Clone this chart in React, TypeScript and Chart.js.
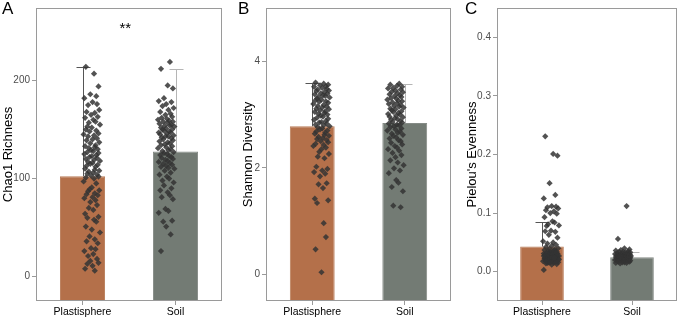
import React, { useEffect, useRef } from 'react';
import { Chart, registerables } from 'chart.js';

Chart.register(...registerables);

const FONT = '"Liberation Sans", Arial, Helvetica, sans-serif';

const GROUPS = ['Plastisphere', 'Soil'];
const BAR_COLORS = ['#b4704a', '#737b74'];
const BAR_EDGES = ['#b97d5a', '#858b86'];
const ERR_COLORS = ['#555555', '#b5b5b5'];

// Panel A — Chao1 richness
const CHAO_MEANS = [102.4, 127.6];
const CHAO_UPPER = [214, 212];
const CHAO_TICKS = [0, 100, 200];
const CHAO_TICK_LABELS = ['0', '100', '200'];
const CHAO_PLAST = [214, 207, 194, 186, 184, 182, 178, 176, 175, 170, 168, 167, 165, 163, 162, 160, 158, 157, 155, 153, 152, 150, 149, 148, 146, 145, 144, 143, 141, 140, 139, 137, 136, 134, 133, 132, 131, 130, 129, 128, 127, 126, 125, 124, 123, 122, 121, 120, 119, 118, 117, 116, 115, 114, 113, 112, 110, 109, 108, 107, 106, 105, 104, 103, 102, 101, 100, 97, 95, 91, 89, 88, 87, 85, 84, 83, 81, 80, 78, 76, 73, 70, 68, 64, 61, 60, 58, 56, 51, 48, 45, 41, 38, 36, 34, 29, 28, 26, 23, 21, 18, 16, 14, 13, 11, 8, 6];
const CHAO_SOIL = [219, 212, 195, 192, 182, 179, 178, 176, 174, 172, 170, 168, 166, 165, 163, 162, 161, 160, 159, 158, 158, 157, 156, 155, 154, 154, 153, 152, 151, 150, 150, 149, 148, 147, 147, 146, 145, 144, 143, 143, 142, 141, 140, 139, 138, 137, 136, 135, 134, 133, 132, 131, 130, 129, 128, 127, 126, 125, 124, 123, 122, 121, 120, 119, 118, 117, 116, 115, 114, 113, 112, 111, 110, 108, 106, 104, 102, 100, 98, 96, 93, 90, 88, 86, 83, 81, 79, 69, 67, 65, 57, 56, 51, 43, 26];

// Panel B — Shannon diversity
const SHAN_MEANS = [2.78, 2.84];
const SHAN_UPPER = [3.6, 3.58];
const SHAN_TICKS = [0, 2, 4];
const SHAN_TICK_LABELS = ['0', '2', '4'];
const SHAN_PLAST = [3.6, 3.58, 3.56, 3.55, 3.53, 3.52, 3.5, 3.48, 3.47, 3.45, 3.44, 3.42, 3.4, 3.39, 3.38, 3.36, 3.35, 3.33, 3.32, 3.3, 3.28, 3.27, 3.25, 3.24, 3.22, 3.2, 3.18, 3.16, 3.15, 3.13, 3.11, 3.1, 3.08, 3.06, 3.05, 3.03, 3.01, 3.0, 2.98, 2.96, 2.94, 2.92, 2.9, 2.88, 2.86, 2.85, 2.83, 2.81, 2.8, 2.78, 2.76, 2.74, 2.72, 2.7, 2.68, 2.66, 2.64, 2.62, 2.6, 2.58, 2.56, 2.54, 2.52, 2.5, 2.48, 2.45, 2.43, 2.41, 2.38, 2.35, 2.3, 2.26, 2.21, 2.18, 2.02, 1.98, 1.95, 1.92, 1.89, 1.84, 1.71, 1.69, 1.62, 1.42, 1.39, 1.34, 0.96, 0.7, 0.47, 0.04];
const SHAN_SOIL = [3.58, 3.56, 3.54, 3.52, 3.5, 3.49, 3.47, 3.45, 3.43, 3.42, 3.4, 3.38, 3.36, 3.35, 3.33, 3.31, 3.3, 3.28, 3.26, 3.25, 3.23, 3.21, 3.2, 3.18, 3.16, 3.15, 3.13, 3.11, 3.1, 3.08, 3.06, 3.05, 3.03, 3.01, 3.0, 2.98, 2.96, 2.95, 2.93, 2.91, 2.9, 2.88, 2.86, 2.85, 2.83, 2.81, 2.8, 2.78, 2.76, 2.74, 2.72, 2.7, 2.68, 2.66, 2.64, 2.62, 2.6, 2.57, 2.55, 2.52, 2.5, 2.47, 2.44, 2.41, 2.38, 2.35, 2.32, 2.28, 2.24, 2.2, 2.14, 2.1, 2.05, 1.99, 1.95, 1.9, 1.77, 1.72, 1.64, 1.56, 1.29, 1.26];

// Panel C — Pielou's evenness
const EVEN_MEANS = [0.043, 0.0245];
const EVEN_UPPER = [0.085, 0.033];
const EVEN_TICKS = [0, 0.1, 0.2, 0.3, 0.4];
const EVEN_TICK_LABELS = ['0.0', '0.1', '0.2', '0.3', '0.4'];
const EVEN_PLAST = [0.231, 0.201, 0.198, 0.151, 0.131, 0.125, 0.112, 0.111, 0.11, 0.108, 0.105, 0.103, 0.1, 0.099, 0.093, 0.086, 0.084, 0.081, 0.079, 0.078, 0.07, 0.069, 0.068, 0.063, 0.058, 0.052, 0.05, 0.048, 0.046, 0.044, 0.042, 0.04, 0.039, 0.038, 0.037, 0.036, 0.035, 0.034, 0.034, 0.033, 0.032, 0.031, 0.031, 0.03, 0.03, 0.029, 0.028, 0.028, 0.027, 0.027, 0.026, 0.026, 0.025, 0.025, 0.024, 0.024, 0.023, 0.023, 0.022, 0.022, 0.021, 0.021, 0.02, 0.02, 0.019, 0.019, 0.018, 0.018, 0.017, 0.017, 0.016, 0.016, 0.015, 0.015, 0.014, 0.013, 0.012, 0.003, 0.035, 0.033, 0.032, 0.03, 0.029, 0.028, 0.027, 0.026, 0.025, 0.024, 0.023, 0.022, 0.021, 0.02, 0.019, 0.018, 0.017, 0.016, 0.024, 0.027];
const EVEN_SOIL = [0.112, 0.056, 0.04, 0.038, 0.037, 0.036, 0.035, 0.034, 0.034, 0.033, 0.033, 0.032, 0.032, 0.031, 0.031, 0.03, 0.03, 0.03, 0.029, 0.029, 0.029, 0.028, 0.028, 0.028, 0.027, 0.027, 0.027, 0.026, 0.026, 0.026, 0.026, 0.025, 0.025, 0.025, 0.025, 0.024, 0.024, 0.024, 0.024, 0.023, 0.023, 0.023, 0.023, 0.022, 0.022, 0.022, 0.022, 0.021, 0.021, 0.021, 0.021, 0.02, 0.02, 0.02, 0.02, 0.019, 0.019, 0.019, 0.018, 0.018, 0.018, 0.017, 0.017, 0.016, 0.016, 0.015, 0.015, 0.014];

// Horizontal jitter (category units)
const JITTER_PLAST = [-0.08, 0.03, 0.09, -0.02, 0.06, -0.1, 0.01, 0.07, -0.05, 0.1, -0.07, 0.04, -0.01, 0.08, -0.09, 0.02, 0.05, -0.04, 0.11, -0.06,
  0.0, -0.08, 0.06, -0.03, 0.09, -0.11, 0.03, -0.05, 0.07, 0.01, -0.07, 0.1, -0.02, 0.05, -0.09, 0.04, -0.04, 0.08, -0.01, 0.02,
  -0.06, 0.09, -0.1, 0.06, 0.0, -0.03, 0.07, -0.08, 0.03, 0.11, -0.05, 0.01, -0.02, 0.08, -0.07, 0.05, -0.09, 0.04, 0.1, -0.04,
  0.02, -0.06, 0.07, -0.01, 0.09, -0.08, 0.03, -0.11, 0.06, 0.0, -0.03, 0.1, -0.05, 0.04, -0.07, 0.08, 0.01, -0.1, 0.05, -0.02,
  0.07, -0.04, 0.02, -0.09, 0.09, -0.06, 0.03, 0.06, -0.08, 0.0, 0.11, -0.03, 0.04, -0.07, 0.08, -0.01, 0.05, -0.1, 0.02, -0.05,
  0.07, -0.02, 0.09, -0.06, 0.01, -0.09, 0.04, 0.06, -0.04, 0.03];
const JITTER_SOIL = [0.05, -0.07, 0.02, 0.09, -0.03, -0.1, 0.07, 0.0, -0.05, 0.1, 0.03, -0.08, 0.06, -0.01, 0.08, -0.06, 0.01, -0.11, 0.04, 0.09,
  -0.04, 0.02, -0.09, 0.07, -0.02, 0.05, 0.11, -0.07, 0.0, -0.05, 0.08, -0.03, 0.04, -0.1, 0.06, 0.01, -0.08, 0.1, -0.01, 0.03,
  -0.06, 0.07, -0.04, 0.09, -0.09, 0.02, 0.05, -0.02, -0.07, 0.08, 0.0, -0.11, 0.06, 0.03, -0.05, 0.1, -0.03, 0.01, -0.08, 0.04,
  0.07, -0.06, 0.09, -0.01, 0.02, -0.1, 0.05, -0.04, 0.08, 0.0, -0.07, 0.03, 0.11, -0.02, 0.06, -0.09, 0.01, 0.04, -0.05, 0.1,
  -0.03, 0.07, -0.08, 0.02, 0.05, -0.06, 0.09, -0.01, 0.03, -0.1, 0.08, -0.04, 0.0, 0.06, -0.07, 0.01, 0.1, -0.02, 0.04, -0.09,
  0.07, -0.05, 0.02, 0.08, -0.03, 0.05, -0.08, 0.0, 0.06, -0.01];

type PanelCfg = {
  letter: string;
  title: string;
  means: number[];
  upper: number[];
  plast: number[];
  soil: number[];
  ticks: number[];
  tickLabels: string[];
  min: number;
  max: number;
  sig?: { text: string; x: number; y: number };
};

const PANELS: PanelCfg[] = [
  { letter: 'A', title: 'Chao1 Richness', means: CHAO_MEANS, upper: CHAO_UPPER, plast: CHAO_PLAST, soil: CHAO_SOIL, ticks: CHAO_TICKS, tickLabels: CHAO_TICK_LABELS, min: -24.9, max: 274, sig: { text: '**', x: 1.45, y: 248 } },
  { letter: 'B', title: 'Shannon Diversity', means: SHAN_MEANS, upper: SHAN_UPPER, plast: SHAN_PLAST, soil: SHAN_SOIL, ticks: SHAN_TICKS, tickLabels: SHAN_TICK_LABELS, min: -0.5, max: 5.0 },
  { letter: 'C', title: "Pielou's Evenness", means: EVEN_MEANS, upper: EVEN_UPPER, plast: EVEN_PLAST, soil: EVEN_SOIL, ticks: EVEN_TICKS, tickLabels: EVEN_TICK_LABELS, min: -0.05, max: 0.45 },
];

const LAYOUT = [
  { left: 0, width: 228, yWidth: 36, padRight: 6, titlePad: 1, letterX: 2 },
  { left: 228, width: 227, yWidth: 38, padRight: 4, titlePad: 12.7, letterX: 10 },
  { left: 455, width: 230, yWidth: 42, padRight: 8, titlePad: 10, letterX: 10 },
];

const H = 317;

function Panel({ cfg, lay }: { cfg: PanelCfg; lay: typeof LAYOUT[number] }) {
  const ref = useRef<HTMLCanvasElement | null>(null);
  useEffect(() => {
    if (!ref.current) return;
    const points = [
      ...cfg.plast.map((v, i) => ({ x: 1 + JITTER_PLAST[i], y: v })),
      ...cfg.soil.map((v, i) => ({ x: 2 + JITTER_SOIL[i], y: v })),
    ];
    const decor = {
      id: 'decor' + cfg.letter,
      afterDatasetDraw(chart: any, args: any) {
        if (args.index !== 0) return;
        const ctx = chart.ctx;
        const xs = chart.scales.x;
        const ys = chart.scales.y;
        ctx.save();
        ctx.lineWidth = 1;
        cfg.means.forEach((m, i) => {
          const px = Math.round(xs.getPixelForValue(i)) + 0.5;
          const y1 = ys.getPixelForValue(m);
          const y2 = Math.round(ys.getPixelForValue(cfg.upper[i])) + 0.5;
          ctx.strokeStyle = ERR_COLORS[i];
          ctx.beginPath();
          ctx.moveTo(px, y1);
          ctx.lineTo(px, y2);
          ctx.moveTo(px - 7, y2);
          ctx.lineTo(px + 7, y2);
          ctx.stroke();
        });
        ctx.restore();
      },
      afterDraw(chart: any) {
        const ctx = chart.ctx;
        const a = chart.chartArea;
        ctx.save();
        ctx.strokeStyle = '#9a9a9a';
        ctx.lineWidth = 1;
        ctx.strokeRect(Math.round(a.left) + 0.5, Math.round(a.top) + 0.5, Math.round(a.right - a.left) - 1, Math.round(a.bottom - a.top) - 1);
        if (cfg.sig) {
          ctx.fillStyle = '#000';
          ctx.font = '15px ' + FONT;
          ctx.textAlign = 'center';
          ctx.textBaseline = 'middle';
          ctx.fillText(cfg.sig.text, chart.scales.xj.getPixelForValue(cfg.sig.x), chart.scales.y.getPixelForValue(cfg.sig.y) - 5);
        }
        ctx.restore();
      },
    };
    const chart = new Chart(ref.current, {
      type: 'bar',
      data: {
        labels: GROUPS,
        datasets: [
          {
            type: 'bar',
            order: 1,
            data: cfg.means,
            xAxisID: 'x',
            yAxisID: 'y',
            backgroundColor: BAR_COLORS,
            borderColor: BAR_EDGES,
            borderWidth: 1,
            grouped: false,
            barPercentage: 0.485,
            categoryPercentage: 1,
            base: cfg.min,
          } as any,
          {
            type: 'scatter',
            order: 0,
            data: points,
            xAxisID: 'xj',
            yAxisID: 'y',
            pointStyle: 'rectRot',
            pointRadius: 3.1,
            pointBorderWidth: 0,
            backgroundColor: 'rgba(52,52,52,0.85)',
            borderColor: 'rgba(52,52,52,0.85)',
            showLine: false,
          } as any,
        ],
      },
      options: {
        animation: false,
        responsive: false,
        maintainAspectRatio: false,
        events: [],
        layout: { padding: { top: 1, right: lay.padRight, left: 0, bottom: 0 } },
        plugins: { legend: { display: false }, tooltip: { enabled: false } },
        scales: {
          x: {
            type: 'category',
            labels: GROUPS,
            offset: true,
            grid: { display: true, drawOnChartArea: false, offset: false, tickLength: 4, color: '#9a9a9a' },
            border: { display: false },
            ticks: { color: '#000', font: { size: 10.5, family: FONT }, padding: 1, maxRotation: 0, autoSkip: false },
            afterFit: (s: any) => { s.height = 16; },
          },
          xj: { type: 'linear', min: 0.5, max: 2.5, display: false },
          y: {
            type: 'linear',
            min: cfg.min,
            max: cfg.max,
            afterBuildTicks: (s: any) => { s.ticks = cfg.ticks.map((v) => ({ value: v })); },
            ticks: {
              color: '#4d4d4d',
              font: { size: 10, family: FONT },
              padding: 2,
              callback: (v: any) => {
                const idx = cfg.ticks.findIndex((t) => Math.abs(t - v) < 1e-9);
                return idx >= 0 ? cfg.tickLabels[idx] : '';
              },
            },
            grid: { display: true, drawOnChartArea: false, tickLength: 4, color: '#9a9a9a' },
            border: { display: false },
            title: { display: true, text: cfg.title, color: '#000', font: { size: 13, family: FONT }, padding: { top: lay.titlePad, bottom: 0 } },
            afterFit: (s: any) => { s.width = lay.yWidth; },
          },
        },
      } as any,
      plugins: [decor],
    });
    return () => chart.destroy();
  }, []);

  return (
    <div style={{ position: 'absolute', left: lay.left, top: 0, width: lay.width, height: H }}>
      <canvas ref={ref} width={lay.width} height={H} style={{ width: lay.width, height: H, display: 'block' }} />
      <div style={{ position: 'absolute', left: lay.letterX, top: 0, font: '17px ' + FONT, lineHeight: '17px', color: '#000' }}>{cfg.letter}</div>
    </div>
  );
}

export default function App() {
  return (
    <div style={{ position: 'absolute', left: 0, top: 0, width: 685, height: H, background: '#fff', overflow: 'hidden' }}>
      {PANELS.map((p, i) => (
        <Panel key={p.letter} cfg={p} lay={LAYOUT[i]} />
      ))}
    </div>
  );
}
